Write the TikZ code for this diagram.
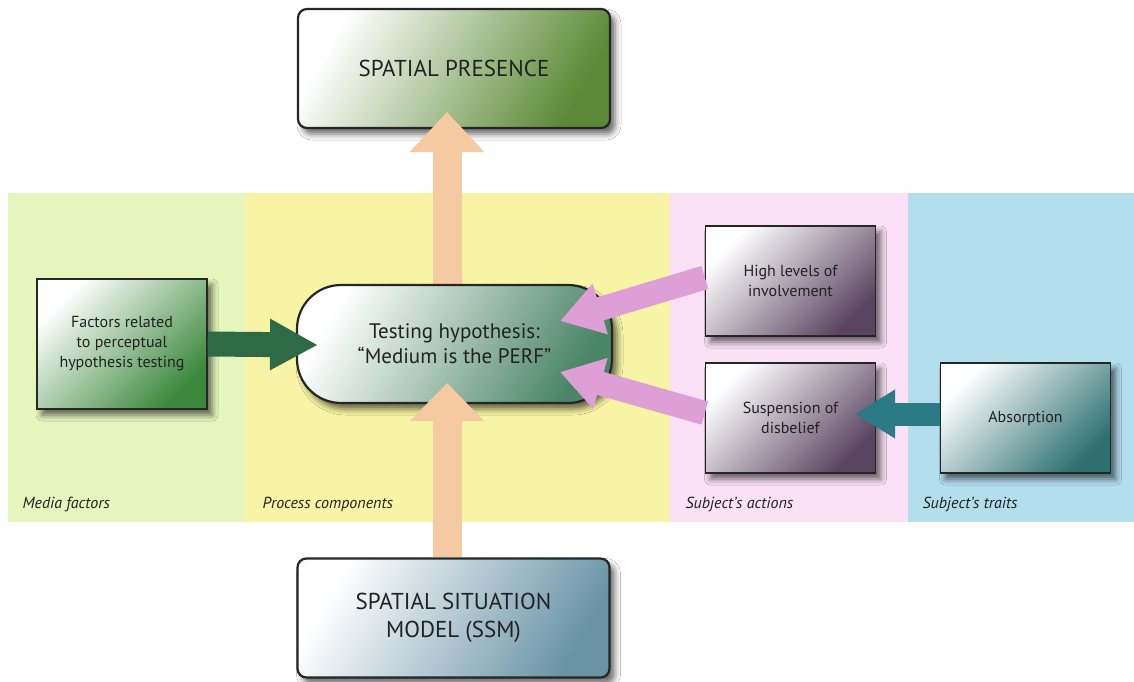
\documentclass[tikz,border=0pt]{standalone}
\usepackage{fontspec}
\setmainfont{PT Sans}
\usetikzlibrary{arrows.meta,shadows.blur}

\definecolor{bandgreen}{HTML}{E6F5BE}
\definecolor{bandyellow}{HTML}{F7F5A5}
\definecolor{bandpink}{HTML}{FAE1F5}
\definecolor{bandblue}{HTML}{B3DEEC}
\definecolor{txt}{HTML}{222222}
\definecolor{presdark}{HTML}{5B8A36}
\definecolor{factdark}{HTML}{3C883C}
\definecolor{testdark}{HTML}{4A8566}
\definecolor{actdark}{HTML}{5A4560}
\definecolor{absdark}{HTML}{2E7070}
\definecolor{ssmdark}{HTML}{6A94A6}
\definecolor{peach}{HTML}{F5C9A2}
\definecolor{orchid}{HTML}{DD9FD6}
\definecolor{forest}{HTML}{2F6A47}
\definecolor{teal}{HTML}{2A7B86}

\tikzset{
  box/.style={draw=black!85, line width=1.4pt, text=txt, align=center,
    shading=axis, top color=white, middle color=#1!55!white, bottom color=#1,
    shading angle=45,
    blur shadow={shadow xshift=5pt, shadow yshift=-6pt, shadow blur radius=6pt, shadow opacity=60}},
  bigbox/.style={box=#1, shading angle=60, rounded corners=9pt, line width=2.2pt,
    minimum width=312pt, minimum height=119pt,
    font=\fontsize{23}{28}\selectfont},
  smallbox/.style={box=#1, minimum width=170pt, minimum height=110pt,
    font=\fontsize{16}{20}\selectfont},
  bandlabel/.style={anchor=base west, text=txt, font=\fontsize{16}{18}\selectfont\itshape},
  fat/.style={line width=#1, line cap=butt},
}

\begin{document}
\begin{tikzpicture}[x=1pt,y=-1pt]
\useasboundingbox (0,0) rectangle (1134,682);
\fill[white] (0,0) rectangle (1134,682);

% colour bands
\fill[bandgreen]  (8,193)   rectangle (245,522);
\fill[bandyellow] (245,193) rectangle (670,522);
\fill[bandpink]   (670,193) rectangle (908,522);
\fill[bandblue]   (908,193) rectangle (1134,522);

\node[bandlabel] (lmedia) at (19,508) {Media factors};
\node[bandlabel] (lproc) at (259,508) {Process components};
\node[bandlabel] (lact) at (682,508) {Subject’s actions};
\node[bandlabel] (ltrait) at (919,508) {Subject’s traits};

% boxes
\node[bigbox=presdark] (pres) at (454,68.5) {SPATIAL PRESENCE};
\node[bigbox=ssmdark] (ssm) at (453.5,618) {SPATIAL SITUATION\\MODEL (SSM)};
\node[smallbox=factdark, minimum height=130pt] (fact) at (122,344)
  {Factors related\\to perceptual\\hypothesis testing};
\node[smallbox=actdark] (high) at (790.5,281) {High levels of\\involvement};
\node[smallbox=actdark] (susp) at (790.5,418) {Suspension of\\disbelief};
\node[smallbox=absdark] (abs) at (1025.5,418) {Absorption};

% arrow tips
\coordinate (ptop) at (447,112);
\coordinate (pbot) at (447,383);
\coordinate (gtip) at (318,345);
\coordinate (htip) at (560,321);
\coordinate (stip) at (560,372);
\coordinate (ttip) at (855,414);

% upward arrow to spatial presence (drawn before the hypothesis node)
\draw[peach, fat=29pt, -{Triangle[length=40pt,width=72pt]}] (447,300) -- (ptop);

\node[box=testdark, shading angle=60, rounded corners=44pt, line width=2.2pt,
  minimum width=315pt, minimum height=118pt,
  font=\fontsize{21}{25}\selectfont] (test) at (454.5,344)
  {Testing hypothesis:\\“Medium is the PERF”};

% remaining arrows
\draw[peach, fat=29pt, -{Triangle[length=38pt,width=72pt]}] (pbot |- ssm.north) -- (pbot);
\draw[forest, fat=25pt, -{Triangle[length=48pt,width=48pt]}] (fact.east) -- (gtip);
\draw[orchid, fat=24pt, -{Triangle[length=42pt,width=50pt]}] ([yshift=3.5pt]high.west) -- (htip);
\draw[orchid, fat=24pt, -{Triangle[length=42pt,width=50pt]}] ([yshift=5pt]susp.west) -- (stip);
\draw[teal, fat=23pt, -{Triangle[length=40pt,width=46pt]}] (abs.west |- ttip) -- (ttip);
\end{tikzpicture}
\end{document}
